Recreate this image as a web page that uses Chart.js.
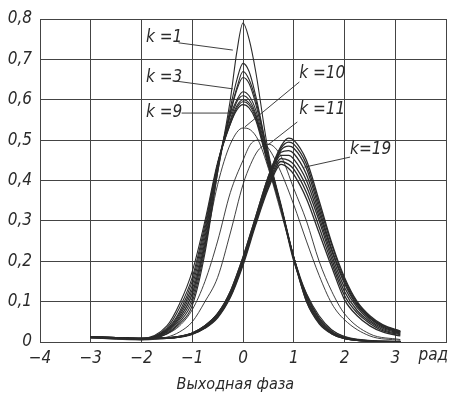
<!DOCTYPE html>
<html>
<head>
<meta charset="utf-8">
<script src="https://cdn.jsdelivr.net/npm/chart.js@4.4.0/dist/chart.umd.min.js"></script>
<style>
  html, body { margin:0; padding:0; background:#fff; }
  canvas { display:block; }
</style>
</head>
<body>
<canvas id="chart" width="452" height="396"></canvas>
<script>
// ---------- Data ----------
const xTicks = [-4, -3, -2, -1, 0, 1, 2, 3, 4];
const yTicks = [0, 0.1, 0.2, 0.3, 0.4, 0.5, 0.6, 0.7, 0.8];
const xUnit = 'рад';
const xTitle = 'Выходная фаза';

// left family, peaks at 0 (k = 1 ... 9)
const xsLeft = [-3, -2.5, -2, -1.5, -1.25, -1, -0.75, -0.5, -0.25, -0.12, 0, 0.12, 0.25, 0.5, 0.75, 1, 1.25, 1.5, 1.75, 2, 2.5, 3.1];
const k1 = [0.012,0.01,0.006,0.02,0.045,0.09,0.22,0.42,0.6,0.72,0.79,0.75,0.67,0.47,0.34,0.21,0.1,0.045,0.02,0.008,0.002,0.001];
const k2 = [0.012,0.01,0.007,0.022,0.05,0.1,0.23,0.42,0.58,0.65,0.69,0.67,0.61,0.46,0.335,0.205,0.1,0.047,0.02,0.008,0.002,0.001];
const k3 = [0.012,0.01,0.007,0.024,0.055,0.11,0.24,0.43,0.57,0.63,0.67,0.65,0.6,0.46,0.335,0.205,0.105,0.05,0.021,0.009,0.002,0.001];
const k4 = [0.012,0.01,0.007,0.026,0.06,0.12,0.25,0.43,0.565,0.625,0.655,0.64,0.59,0.455,0.335,0.21,0.105,0.05,0.022,0.009,0.002,0.001];
const k5 = [0.012,0.01,0.008,0.028,0.065,0.13,0.26,0.44,0.56,0.6,0.62,0.61,0.575,0.45,0.335,0.21,0.11,0.052,0.023,0.01,0.003,0.001];
const k6 = [0.012,0.01,0.008,0.03,0.07,0.14,0.27,0.44,0.55,0.595,0.61,0.6,0.565,0.445,0.33,0.21,0.11,0.055,0.024,0.01,0.003,0.001];
const k7 = [0.012,0.01,0.008,0.032,0.075,0.15,0.28,0.44,0.545,0.585,0.6,0.592,0.56,0.44,0.33,0.21,0.115,0.057,0.025,0.011,0.003,0.001];
const k8 = [0.012,0.01,0.008,0.035,0.085,0.16,0.29,0.44,0.54,0.58,0.595,0.587,0.555,0.44,0.33,0.205,0.115,0.06,0.027,0.012,0.003,0.001];
const k9 = [0.012,0.01,0.009,0.04,0.095,0.175,0.3,0.445,0.54,0.575,0.588,0.58,0.55,0.435,0.33,0.2,0.12,0.065,0.03,0.013,0.003,0.001];

// middle curves (k = 10 and the two thin ones)
const xsMid = [-3, -2, -1.5, -1.25, -1, -0.75, -0.5, -0.25, 0, 0.15, 0.3, 0.5, 0.75, 1, 1.25, 1.5, 1.75, 2, 2.5, 3.1];
const k10 = [0.01,0.007,0.03,0.06,0.12,0.24,0.39,0.49,0.53,0.525,0.5,0.43,0.32,0.21,0.12,0.06,0.03,0.014,0.004,0.001];
const m2  = [0.01,0.006,0.02,0.04,0.08,0.15,0.25,0.37,0.45,0.49,0.5,0.48,0.42,0.34,0.25,0.165,0.095,0.055,0.015,0.004];
const m3  = [0.01,0.005,0.012,0.025,0.05,0.1,0.16,0.27,0.39,0.44,0.475,0.49,0.46,0.38,0.3,0.2,0.125,0.07,0.02,0.006];

// right family, peaks near 0.8-0.9 (k = 12 ... 19)
const xsRight = [-3, -2.5, -2, -1.5, -1.25, -1, -0.75, -0.5, -0.25, 0, 0.25, 0.5, 0.75, 0.9, 1, 1.25, 1.5, 1.75, 2, 2.25, 2.5, 2.75, 3.1];
const r1 = [0.013,0.011,0.009,0.01,0.014,0.022,0.04,0.07,0.125,0.21,0.31,0.41,0.485,0.505,0.5,0.45,0.35,0.245,0.16,0.1,0.065,0.043,0.027];
const r2 = [0.013,0.011,0.009,0.01,0.014,0.022,0.04,0.07,0.125,0.21,0.31,0.41,0.48,0.495,0.49,0.44,0.34,0.24,0.155,0.097,0.062,0.041,0.026];
const r3 = [0.013,0.011,0.009,0.01,0.014,0.022,0.04,0.07,0.12,0.205,0.305,0.405,0.475,0.485,0.48,0.43,0.33,0.23,0.15,0.093,0.06,0.039,0.025];
const r4 = [0.013,0.011,0.009,0.01,0.013,0.021,0.038,0.068,0.12,0.205,0.305,0.4,0.47,0.474,0.467,0.415,0.32,0.225,0.145,0.09,0.058,0.037,0.024];
const r5 = [0.012,0.011,0.009,0.01,0.013,0.021,0.037,0.066,0.118,0.2,0.3,0.395,0.462,0.462,0.453,0.4,0.31,0.215,0.135,0.085,0.054,0.034,0.022];
const r6 = [0.012,0.01,0.008,0.01,0.013,0.02,0.036,0.064,0.115,0.2,0.3,0.39,0.454,0.45,0.44,0.385,0.3,0.205,0.125,0.078,0.05,0.031,0.02];
const r7 = [0.012,0.01,0.008,0.009,0.012,0.02,0.035,0.062,0.112,0.195,0.295,0.385,0.447,0.44,0.428,0.37,0.285,0.195,0.115,0.072,0.046,0.028,0.018];
const r8 = [0.012,0.01,0.008,0.009,0.012,0.019,0.034,0.06,0.11,0.19,0.29,0.38,0.44,0.43,0.415,0.355,0.27,0.185,0.105,0.065,0.04,0.025,0.015];

// curve labels: text, text position, leader start, leader end (data units)
const curveLabels = [
  { text:'k =1',  at:[-1.91, 0.753], from:[-1.27, 0.741], to:[-0.2, 0.723] },
  { text:'k =3',  at:[-1.91, 0.656], from:[-1.31, 0.646], to:[-0.2, 0.627] },
  { text:'k =9',  at:[-1.91, 0.567], from:[-1.21, 0.567], to:[-0.2, 0.567] },
  { text:'k =10', at:[1.11, 0.666],  from:[1.11, 0.644],  to:[0.04, 0.533] },
  { text:'k =11', at:[1.11, 0.575],  from:[1.07, 0.545],  to:[0.49, 0.488] },
  { text:'k=19',  at:[2.11, 0.476],  from:[2.11, 0.458],  to:[1.21, 0.433] }
];

// ---------- Helpers ----------
const FONT = "'DejaVu Sans Condensed', 'DejaVu Sans', sans-serif";
const INK = '#2a2a2a';

function pts(xs, ys){ return xs.map((x,i)=>({ x, y: ys[i] })) }

function curve(xs, ys, w){
  return {
    data: pts(xs, ys),
    borderColor: INK,
    borderWidth: w || 1,
    pointRadius: 0,
    fill: false,
    cubicInterpolationMode: 'monotone'
  }
}

const datasets = [
  ...[k1,k2,k3,k4,k5,k6,k7,k8,k9].map(ys=>curve(xsLeft, ys, 1.1)),
  ...[k10,m2,m3].map(ys=>curve(xsMid, ys, 0.9)),
  ...[r1,r2,r3,r4,r5,r6,r7,r8].map(ys=>curve(xsRight, ys, 1.3))
];

// ---------- Annotations ----------
const annot = {
  id: 'annot',
  afterDraw(chart){
    const {ctx, scales:{x, y}} = chart;
    ctx.save();
    ctx.fillStyle = INK;
    ctx.strokeStyle = INK;
    ctx.lineWidth = 0.9;
    ctx.font = `italic 17px ${FONT}`;
    ctx.textBaseline = 'middle';
    ctx.textAlign = 'left';
    for(const l of curveLabels){
      ctx.fillText(l.text, x.getPixelForValue(l.at[0]), y.getPixelForValue(l.at[1]));
      ctx.beginPath();
      ctx.moveTo(x.getPixelForValue(l.from[0]), y.getPixelForValue(l.from[1]));
      ctx.lineTo(x.getPixelForValue(l.to[0]), y.getPixelForValue(l.to[1]));
      ctx.stroke();
    }
    // unit at the end of the x axis
    ctx.textAlign = 'center';
    ctx.fillText(xUnit, x.getPixelForValue(3.75), y.bottom + 14);
    // axis title
    ctx.font = `italic 16px ${FONT}`;
    ctx.fillText(xTitle, x.getPixelForValue(-0.15), y.bottom + 43);
    ctx.restore();
  }
};

// ---------- Chart ----------
const ctx = document.getElementById('chart').getContext('2d');
new Chart(ctx, {
  type: 'line',
  data: { datasets },
  options: {
    responsive: false,
    animation: false,
    layout: { padding: { top: 19, right: 2, left: 0, bottom: 0 } },
    plugins: { legend: { display: false }, tooltip: { enabled: false } },
    scales: {
      x: {
        type: 'linear',
        min: -4, max: 4,
        afterBuildTicks: s => { s.ticks = xTicks.map(v=>({ value: v })) },
        afterFit: s => { s.height = 54 },
        grid: { color: '#444', lineWidth: 1, drawTicks: false },
        border: { color: '#444' },
        ticks: {
          padding: 6,
          color: INK,
          font: { family: FONT, style: 'italic', size: 17 },
          maxRotation: 0,
          callback: v => v === 4 ? '' : (v < 0 ? '\u2212' + Math.abs(v) : String(v))
        }
      },
      y: {
        min: 0, max: 0.8,
        afterBuildTicks: s => { s.ticks = yTicks.map(v=>({ value: v })) },
        afterFit: s => { s.width = 40 },
        grid: { color: '#444', lineWidth: 1, drawTicks: false },
        border: { color: '#444' },
        ticks: {
          padding: 8,
          color: INK,
          font: { family: FONT, style: 'italic', size: 17 },
          callback: v => v === 0 ? '0' : v.toFixed(1).replace('.', ',')
        }
      }
    }
  },
  plugins: [annot]
});
</script>
</body>
</html>
